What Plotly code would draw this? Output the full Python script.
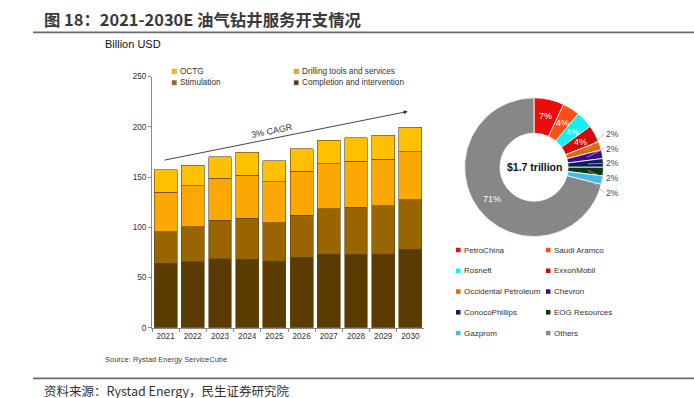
import math
import plotly.graph_objects as go

# ---------------- data ----------------
years = ["2021", "2022", "2023", "2024", "2025", "2026", "2027", "2028", "2029", "2030"]
completion = [64.2, 65.8, 68.7, 68.4, 66.4, 70.3, 73.2, 73.2, 73.2, 78.1]
stimulation = [31.4, 34.7, 38.3, 40.8, 38.3, 41.9, 45.1, 46.7, 48.4, 49.3]
drilling = [39.2, 40.8, 41.8, 42.8, 40.5, 43.7, 45.1, 45.8, 46.0, 48.0]
octg = [22.4, 20.5, 21.4, 22.7, 21.1, 22.4, 23.4, 23.3, 24.0, 24.3]
y_ticks = [0, 50, 100, 150, 200, 250]

bar_names = ["OCTG", "Drilling tools and services", "Stimulation", "Completion and intervention"]
bar_colors = ["#FFC000", "#FBA704", "#986500", "#5A3C02"]

companies = ["PetroChina", "Saudi Aramco", "Rosneft", "ExxonMobil", "Occidental Petroleum",
             "Chevron", "ConocoPhillips", "EOG Resources", "Gazprom", "Others"]
shares = [7, 4, 4, 4, 2, 2, 2, 2, 2, 71]
company_colors = ["#EC0C0C", "#FF4E17", "#16EEF2", "#D20A0A", "#E2680F",
                  "#3B0A8A", "#0B1F5C", "#0A3A0C", "#3DBDEB", "#878787"]

total_label = "$1.7 trillion"
cagr_label = "3% CAGR"

# ---------------- helpers ----------------
W, H = 694, 398
def PX(x):
    return x / W
def PY(y):
    return 1 - y / H

FONT = "Liberation Sans, Arial, sans-serif"
CJK = "Noto Sans CJK SC, sans-serif"

fig = go.Figure()

series = {"OCTG": octg, "Drilling tools and services": drilling,
          "Stimulation": stimulation, "Completion and intervention": completion}
# stack from the bottom up
for name in reversed(bar_names):
    col = bar_colors[bar_names.index(name)]
    fig.add_trace(go.Bar(
        x=years, y=series[name], name=name,
        marker=dict(color=col, line=dict(color="#5e4410", width=0.6)),
        showlegend=False, xaxis="x", yaxis="y"))

# pie geometry (pixels)
cx, cy, R = 534, 167, 71
fig.add_trace(go.Pie(
    labels=companies, values=shares, sort=False, direction="clockwise", rotation=0,
    hole=0.49, textinfo="none", showlegend=False,
    marker=dict(colors=company_colors, line=dict(color="white", width=0.8)),
    domain=dict(x=[PX(cx - R), PX(cx + R)], y=[PY(cy + R), PY(cy - R)])))

ann = []
shapes = []

def text(t, x, y, size, color, family=FONT, xanchor="left", **kw):
    ann.append(dict(text=t, x=PX(x), y=PY(y), xref="paper", yref="paper",
                    xanchor=xanchor, yanchor="middle", showarrow=False,
                    font=dict(family=family, size=size, color=color), **kw))

# title and rules
text("<b>图 18：2021-2030E 油气钻井服务开支情况</b>", 42, 15, 16.4, "#3a3a3a", family=CJK)
shapes.append(dict(type="line", xref="paper", yref="paper", x0=PX(33), x1=PX(694),
                   y0=PY(29), y1=PY(29), line=dict(color="#6a6a6a", width=1.6)))
shapes.append(dict(type="line", xref="paper", yref="paper", x0=PX(33), x1=PX(694),
                   y0=PY(383), y1=PY(383), line=dict(color="#6a6a6a", width=1.6)))
text("资料来源：Rystad Energy，民生证券研究院", 42, 395, 12.5, "#333333", family=CJK)

text("Billion USD", 103, 41, 11, "#111111")
text("Source: Rystad Energy ServiceCube", 103, 364, 7.5, "#444444")

# bar legend (2 columns)
leg_cols = [172, 294]
leg_rows = [69, 80.5]
for i, name in enumerate(bar_names):
    lx = leg_cols[i % 2]
    ly = leg_rows[i // 2]
    shapes.append(dict(type="rect", xref="paper", yref="paper", x0=PX(lx), x1=PX(lx + 4.5),
                       y0=PY(ly + 2.3), y1=PY(ly - 2.3), fillcolor=bar_colors[i],
                       line=dict(color="#777777", width=0.4)))
    text(name, lx + 5.5, ly, 8.2, "#333333")

# CAGR arrow and label
ann.append(dict(text="", x=8.9, y=215.3, ax=-0.1, ay=166.6, xref="x", yref="y",
                axref="x", ayref="y", showarrow=True, arrowhead=2, arrowsize=0.9,
                arrowwidth=0.9, arrowcolor="#333333"))
ann.append(dict(text=cagr_label, x=3.9, y=195.5, xref="x", yref="y", showarrow=False,
                xanchor="center", yanchor="middle",
                textangle=-11.5, font=dict(family=FONT, size=9, color="#333333")))

# pie centre label
text("<b>" + total_label + "</b>", cx, cy, 10.5, "#111111", xanchor="center")

# pie labels computed from the shares
total = sum(shares)
cum = 0
out_i = 0
for name, v in zip(companies, shares):
    theta = 2 * math.pi * (cum + v / 2) / total
    cum += v
    txt = f"{round(100 * v / total)}%"
    if v >= 3:
        rr = 0.75 * R
        text(txt, cx + rr * math.sin(theta), cy - rr * math.cos(theta), 9, "white",
             xanchor="center")
    else:
        lx, ly = 612, 133 + 15 * out_i
        out_i += 1
        rr = 0.76 * R
        sx, sy = cx + rr * math.sin(theta), cy - rr * math.cos(theta)
        shapes.append(dict(type="line", xref="paper", yref="paper", x0=PX(sx), y0=PY(sy),
                           x1=PX(lx - 8), y1=PY(ly), line=dict(color="#b0b0b0", width=0.8)))
        text(txt, lx, ly, 8.5, "#444444", xanchor="center")

# pie legend (2 columns)
pl_cols = [456, 546]
pl_row0, pl_step = 251.7, 21.25
for i, name in enumerate(companies):
    lx = pl_cols[i % 2]
    ly = pl_row0 + pl_step * (i // 2)
    shapes.append(dict(type="rect", xref="paper", yref="paper", x0=PX(lx), x1=PX(lx + 4.5),
                       y0=PY(ly + 2.3), y1=PY(ly - 2.3), fillcolor=company_colors[i],
                       line=dict(width=0)))
    text(name, lx + 6, ly, 8, "#333333")

fig.update_layout(
    width=W, height=H, margin=dict(l=0, r=0, t=0, b=0),
    paper_bgcolor="white", plot_bgcolor="white",
    barmode="stack", bargap=0.16,
    showlegend=False,
    xaxis=dict(domain=[PX(152), PX(424)], type="category", showline=True, linecolor="#8a8a8a",
               linewidth=1, ticks="outside", tickson="boundaries", ticklen=3, tickcolor="#8a8a8a",
               tickangle=0, showgrid=False, tickfont=dict(family=FONT, size=8.2, color="#333333"),
               fixedrange=True),
    yaxis=dict(domain=[PY(331.3), PY(74.3)], range=[0, 250], tickvals=y_ticks, showline=True,
               linecolor="#8a8a8a", linewidth=1, ticks="outside", ticklen=3, tickcolor="#8a8a8a",
               showgrid=False, zeroline=False,
               tickfont=dict(family=FONT, size=8.2, color="#333333"), fixedrange=True),
    annotations=ann, shapes=shapes,
    font=dict(family=FONT),
)

fig.write_html("out.html", config={"displayModeBar": False},
               post_script="document.body.style.margin='0';document.body.style.overflow='hidden';")
